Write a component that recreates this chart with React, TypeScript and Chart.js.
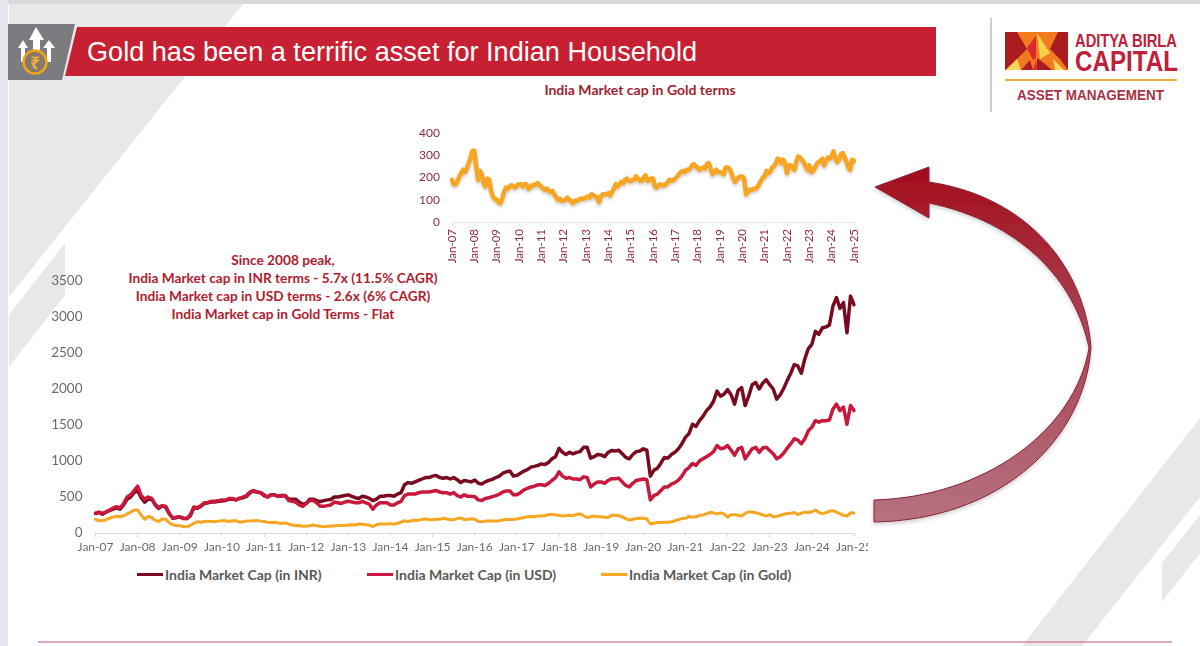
import { useEffect, useRef } from 'react'
import { Chart, registerables } from 'chart.js'

Chart.register(...registerables)

const years = ['07', '08', '09', '10', '11', '12', '13', '14', '15', '16', '17', '18', '19', '20', '21', '22', '23', '24']
const months = ['Jan', 'Feb', 'Mar', 'Apr', 'May', 'Jun', 'Jul', 'Aug', 'Sep', 'Oct', 'Nov', 'Dec']
const labels = [...years.flatMap((y) => months.map((m) => `${m}-${y}`)), 'Jan-25']

const inrValues = [
  270, 285, 260, 290, 310, 330, 350, 330, 390, 470, 500, 560,
  590, 490, 430, 470, 470, 390, 340, 380, 360, 270, 205, 215,
  225, 205, 200, 240, 350, 345, 370, 410, 420, 430, 430, 440,
  445, 450, 470, 470, 460, 480, 490, 510, 560, 580, 570, 560,
  520, 500, 530, 530, 510, 520, 520, 470, 470, 470, 430, 400,
  410, 470, 470, 450, 435, 450, 460, 465, 500, 500, 510, 520,
  530, 510, 490, 480, 510, 500, 480, 450, 470, 510, 510, 520,
  520, 510, 540, 560, 670, 700, 690, 710, 730, 750, 770, 770,
  790, 800, 770, 760, 770, 750, 770, 740, 700, 730, 720, 710,
  735, 690, 680, 710, 730, 745, 770, 790, 830, 850, 860, 790,
  800, 830, 860, 880, 915, 925, 940, 960, 950, 980, 1030, 1060,
  1175, 1120, 1090, 1120, 1100, 1120, 1130, 1190, 1190, 1040, 1060, 1090,
  1085, 1060, 1120, 1145, 1140, 1150, 1100, 1050, 1030, 1090, 1130, 1140,
  1170, 1150, 790, 870, 900, 970, 1050, 1040, 1090, 1120, 1170, 1240,
  1330, 1380, 1510, 1480, 1560, 1620, 1700, 1750, 1830, 1970, 1900, 1930,
  1990, 1920, 1790, 1980, 2020, 1770, 1900, 2060, 2090, 2000, 2080, 2130,
  2060, 2000, 1860, 1920, 2010, 2120, 2220, 2340, 2320, 2220, 2420, 2560,
  2620, 2800, 2760, 2850, 2860, 2890, 3150, 3270, 3120, 3200, 2780, 3290,
  3170,
]

const usdValues = [
  275, 290, 270, 295, 320, 345, 365, 350, 410, 500, 530, 590,
  650, 520, 470, 500, 480, 400, 350, 380, 370, 270, 205, 215,
  225, 200, 200, 250, 360, 350, 380, 420, 425, 440, 440, 450,
  460, 455, 480, 480, 460, 480, 500, 520, 570, 590, 570, 560,
  530, 500, 530, 530, 510, 510, 520, 450, 440, 430, 390, 370,
  410, 450, 450, 420, 370, 370, 380, 390, 430, 420, 410, 430,
  440, 430, 420, 420, 440, 420, 400, 330, 390, 420, 420, 420,
  390, 390, 420, 440, 520, 540, 540, 540, 560, 570, 570, 570,
  580, 590, 570, 560, 560, 540, 560, 520, 500, 530, 510, 510,
  505, 460, 450, 480, 490, 505, 520, 540, 570, 585, 585, 530,
  530, 560, 600, 620, 640, 650, 670, 670, 660, 690, 730, 770,
  850, 790, 760, 770, 750, 750, 740, 780, 770, 640, 680, 710,
  710, 690, 730, 755, 755, 760, 710, 660, 640, 690, 730, 740,
  750, 740, 460, 520, 540, 590, 640, 640, 680, 700, 735, 790,
  870, 910, 965, 940, 1000, 1030, 1060, 1090, 1130, 1215, 1170, 1180,
  1215, 1150, 1080, 1170, 1190, 1030, 1100, 1170, 1190, 1120, 1180, 1190,
  1145, 1100, 1030, 1060, 1110, 1180, 1240, 1310, 1290, 1240, 1310, 1420,
  1470, 1560, 1540, 1560, 1560, 1570, 1720, 1790, 1700, 1750, 1510, 1770,
  1700,
]

const goldValues = [
  190, 170, 170, 185, 205, 220, 235, 225, 240, 265, 290, 320,
  320, 250, 190, 230, 215, 175, 160, 195, 190, 140, 115, 105,
  100, 90, 85, 105, 135, 155, 150, 160, 165, 160, 155, 165,
  170, 170, 160, 170, 170, 150, 155, 165, 165, 170, 175, 165,
  160, 150, 145, 150, 140, 135, 140, 125, 110, 100, 105, 95,
  95, 100, 110, 100, 95, 85, 95, 95, 100, 105, 105, 105,
  110, 115, 110, 125, 120, 115, 110, 90, 115, 125, 125, 125,
  130, 120, 135, 150, 170, 160, 170, 180, 175, 190, 195, 185,
  185, 190, 190, 205, 195, 185, 185, 200, 210, 185, 190, 195,
  195, 160, 155, 165, 170, 165, 165, 170, 180, 190, 185, 190,
  195, 205, 215, 225, 230, 225, 235, 235, 240, 255, 260, 250,
  245, 235, 240, 245, 240, 260, 265, 240, 215, 225, 235, 225,
  225, 220, 215, 245, 245, 240, 225, 200, 180, 190, 200, 205,
  205, 195, 125, 135, 145, 145, 150, 150, 155, 170, 185, 200,
  205, 230, 220, 225, 245, 250, 265, 285, 280, 265, 280, 265,
  220, 255, 255, 245, 235, 270, 295, 290, 280, 270, 250, 235,
  255, 225, 230, 245, 260, 270, 275, 285, 255, 275, 290, 285,
  295, 318, 285, 270, 280, 305, 310, 290, 270, 245, 235, 280,
  275,
]

const INR_NAME = 'India Market Cap (in INR)'
const USD_NAME = 'India Market Cap (in USD)'
const GOLD_NAME = 'India Market Cap (in Gold)'
const INR_COLOR = '#7a0a1f'
const USD_COLOR = '#c8193c'
const GOLD_COLOR = '#f6a623'

const noteLines = [
  'Since 2008 peak,',
  'India Market cap in INR terms - 5.7x (11.5% CAGR)',
  'India Market cap in USD terms - 2.6x (6% CAGR)',
  'India Market cap in Gold Terms - Flat',
]

// only the January ticks are kept on both charts
const keepJanuaries = (scale: any) => {
  scale.ticks = scale.ticks.filter((t: any) => t.value % 12 === 0)
}

// soft drop shadow under the inset line
const lineShadow = {
  id: 'lineShadow',
  beforeDatasetDraw(chart: any) {
    chart.ctx.save()
    chart.ctx.shadowColor = 'rgba(90,70,40,0.28)'
    chart.ctx.shadowBlur = 3
    chart.ctx.shadowOffsetY = 2
  },
  afterDatasetDraw(chart: any) {
    chart.ctx.restore()
  },
}

interface LineChartProps {
  series: { label: string; data: number[]; color: string; width: number; order: number }[]
  left: number
  top: number
  width: number
  height: number
  axisLeft: number
  axisRight: number
  axisTop: number
  xAxisHeight: number
  yMax: number
  yStep: number
  rotate: number
  tickColor: string
  axisColor: string
  xFontSize: number
  yFontSize: number
  yPad: number
  shadow?: boolean
}

function LineChart(p: LineChartProps) {
  const canvasRef = useRef<HTMLCanvasElement>(null)

  useEffect(() => {
    const canvas = canvasRef.current
    if (!canvas) return
    const chart = new Chart(canvas, {
      type: 'line',
      data: {
        labels,
        datasets: p.series.map((s) => ({
          label: s.label,
          data: s.data,
          borderColor: s.color,
          backgroundColor: s.color,
          borderWidth: s.width,
          order: s.order,
          pointRadius: 0,
          tension: 0,
          borderJoinStyle: 'round' as const,
          borderCapStyle: 'round' as const,
        })),
      },
      options: {
        responsive: false,
        animation: false,
        layout: { padding: { top: p.axisTop, right: p.axisRight, left: 0, bottom: 0 } },
        plugins: { legend: { display: false }, tooltip: { enabled: false } },
        scales: {
          x: {
            afterBuildTicks: keepJanuaries,
            afterFit: (s: any) => {
              s.height = p.xAxisHeight
              s.paddingLeft = 0
              s.paddingRight = 0
            },
            border: { color: p.axisColor },
            grid: { drawOnChartArea: false, drawTicks: true, tickLength: 4, tickColor: p.axisColor },
            ticks: {
              autoSkip: false,
              minRotation: p.rotate,
              maxRotation: p.rotate,
              padding: 3,
              color: p.tickColor,
              font: { family: 'Lato', size: p.xFontSize },
            },
          },
          y: {
            min: 0,
            max: p.yMax,
            afterFit: (s: any) => {
              s.width = p.axisLeft
              s.paddingTop = 0
              s.paddingBottom = 0
            },
            border: { display: false },
            grid: { display: false, drawTicks: false },
            ticks: {
              stepSize: p.yStep,
              padding: p.yPad,
              color: p.tickColor,
              font: { family: 'Lato', size: p.yFontSize },
              callback: (v: any) => String(v),
            },
          },
        },
      },
      plugins: p.shadow ? [lineShadow] : [],
    })
    return () => chart.destroy()
  }, [])

  return (
    <canvas
      ref={canvasRef}
      width={p.width}
      height={p.height}
      style={{ position: 'absolute', left: p.left, top: p.top, width: p.width, height: p.height }}
    />
  )
}

function SlideBackground() {
  return (
    <svg width={1200} height={646} style={{ position: 'absolute', left: 0, top: 0 }}>
      <defs>
        <linearGradient id="arrowFill" gradientUnits="userSpaceOnUse" x1="0" y1="170" x2="0" y2="522">
          <stop offset="0" stopColor="#a30d1c" />
          <stop offset="0.45" stopColor="#a94452" />
          <stop offset="1" stopColor="#b5727f" />
        </linearGradient>
        <filter id="arrowShadow" x="-10%" y="-10%" width="120%" height="120%">
          <feDropShadow dx="0" dy="2" stdDeviation="2" floodColor="#000" floodOpacity="0.2" />
        </filter>
      </defs>

      <rect x="0" y="0" width="1200" height="646" fill="#ffffff" />
      <rect x="0" y="0" width="1200" height="4" fill="#d8d8de" />
      <rect x="0" y="0" width="8" height="646" fill="#e6e6ee" />

      <polygon points="9,4 243,4 9,297" fill="#e8e8e8" />
      <polygon points="65,243 65,295 9,367 9,315" fill="#e8e8e8" />
      <polygon points="1200,418 1200,497 1082,646 1022,646" fill="#e8e8e8" />
      <polygon points="1162,563 1200,515 1200,553 1162,602" fill="#e8e8e8" />

      <line x1="38" y1="642" x2="1172" y2="642" stroke="#d28c9e" strokeWidth="1.6" />

      <polygon points="8,24 75,24 62,80 8,80" fill="#7b7c7f" />
      <polygon points="77,27 936,27 936,76 65,76" fill="#c82033" />
      <text x="87" y="61" fontFamily="Liberation Sans" fontSize="27.1" fill="#ffffff">
        Gold has been a terrific asset for Indian Household
      </text>

      <g fill="#ffffff">
        <polygon points="36,27 44,40 40,40 40,60 33,60 33,40 29,40" />
        <polygon points="23,40 28,48 25,48 25,62 21,62 21,48 18,48" />
        <polygon points="49,40 55,48 51,48 51,62 47,62 47,48 43,48" />
      </g>
      <circle cx="35" cy="62" r="11.500" fill="#85796a" stroke="#f2a31c" strokeWidth="2.500" />
      <text x="35" y="68.500" textAnchor="middle" fontFamily="Noto Sans" fontWeight="700" fontSize="17" fill="#f6b23a">
        ₹
      </text>

      <line x1="991" y1="18" x2="991" y2="112" stroke="#bdbdbd" strokeWidth="1.500" />
      <g>
        <rect x="1005" y="32" width="63" height="38" fill="#f47a20" />
        <polygon points="1005,32 1017,32 1027,49 1018,58 1005,70" fill="#a81c20" />
        <polygon points="1058,32 1068,32 1068,70 1060,59 1050,49" fill="#a81c20" />
        <polygon points="1027,48 1036,36 1036,58 1033,60" fill="#e0262e" />
        <polygon points="1037,33 1050,53 1040,59" fill="#f5d04a" />
        <polygon points="1006,70 1017,59 1021,70" fill="#f7d65a" />
        <polygon points="1053,59 1064,70 1055,70" fill="#f7d65a" />
        <polygon points="1021,70 1030,60 1033,70" fill="#b01e22" />
        <polygon points="1037,70 1037,58 1045,64 1052,70" fill="#a81c20" />
        <polygon points="1033,70 1036,60 1037,70" fill="#e0262e" />
      </g>
      <text x="1075" y="46.500" textLength="102" lengthAdjust="spacingAndGlyphs" fontFamily="Liberation Sans" fontWeight="700" fontSize="19" fill="#c0203a">
        ADITYA BIRLA
      </text>
      <text x="1075" y="71" textLength="103" lengthAdjust="spacingAndGlyphs" fontFamily="Liberation Sans" fontWeight="700" fontSize="29" fill="#c0203a">
        CAPITAL
      </text>
      <line x1="1005" y1="80" x2="1177" y2="80" stroke="#efb23f" strokeWidth="2" />
      <text x="1017" y="99.500" textLength="147" lengthAdjust="spacingAndGlyphs" fontFamily="Liberation Sans" fontWeight="700" fontSize="15.500" fill="#a83246">
        ASSET MANAGEMENT
      </text>

      <text x="640" y="95" textAnchor="middle" fontFamily="Lato" fontWeight="700" fontSize="14" fill="#a11c30">
        India Market cap in Gold terms
      </text>

      {noteLines.map((line, i) => (
        <text key={line} x="283" y={265 + i * 18} textAnchor="middle" fontFamily="Lato" fontWeight="700" fontSize="13.700" fill="#b01c2e">
          {line}
        </text>
      ))}

      <path
        d="M875,187 L929,167 L929,182 C1030,197 1085,270 1091,347 C1085,440 1000,520 874,522 L874,500 C985,497 1075,430 1089,348 C1075,280 1020,222 929,203 L929,218 Z"
        fill="url(#arrowFill)"
        stroke="#8a2036"
        strokeWidth="1"
        filter="url(#arrowShadow)"
      />
    </svg>
  )
}

function Legend() {
  const items = [
    { name: INR_NAME, color: INR_COLOR, x: 137 },
    { name: USD_NAME, color: USD_COLOR, x: 367 },
    { name: GOLD_NAME, color: GOLD_COLOR, x: 601 },
  ]
  return (
    <>
      {items.map((it) => (
        <div key={it.name} style={{ position: 'absolute', left: it.x, top: 565, height: 18, display: 'flex', alignItems: 'center', whiteSpace: 'nowrap' }}>
          <span style={{ display: 'inline-block', width: 26, height: 3, background: it.color, marginRight: 2 }} />
          <span style={{ fontFamily: 'Lato', fontWeight: 700, fontSize: 14, color: '#595959' }}>{it.name}</span>
        </div>
      ))}
    </>
  )
}

export default function App() {
  return (
    <div style={{ position: 'absolute', left: 0, top: 0, width: 1200, height: 646, overflow: 'hidden', background: '#fff', filter: 'blur(0.35px)' }}>
      <SlideBackground />
      <LineChart
        series={[{ label: GOLD_NAME, data: goldValues, color: GOLD_COLOR, width: 4.5, order: 0 }]}
        left={410}
        top={125}
        width={460}
        height={142}
        axisLeft={42}
        axisRight={16}
        axisTop={8}
        xAxisHeight={45}
        yMax={400}
        yStep={100}
        rotate={90}
        tickColor="#8f2b3f"
        axisColor="#dfe6f0"
        xFontSize={11.5}
        yFontSize={12}
        yPad={12}
        shadow
      />
      <LineChart
        series={[
          { label: INR_NAME, data: inrValues, color: INR_COLOR, width: 3.5, order: 2 },
          { label: USD_NAME, data: usdValues, color: USD_COLOR, width: 3.5, order: 1 },
          { label: GOLD_NAME, data: goldValues, color: GOLD_COLOR, width: 3, order: 0 },
        ]}
        left={40}
        top={270}
        width={828}
        height={293}
        axisLeft={55.5}
        axisRight={14}
        axisTop={11}
        xAxisHeight={30}
        yMax={3500}
        yStep={500}
        rotate={0}
        tickColor="#6b6b6b"
        axisColor="#d9d9d9"
        xFontSize={12}
        yFontSize={13.5}
        yPad={13}
      />
      <Legend />
    </div>
  )
}
